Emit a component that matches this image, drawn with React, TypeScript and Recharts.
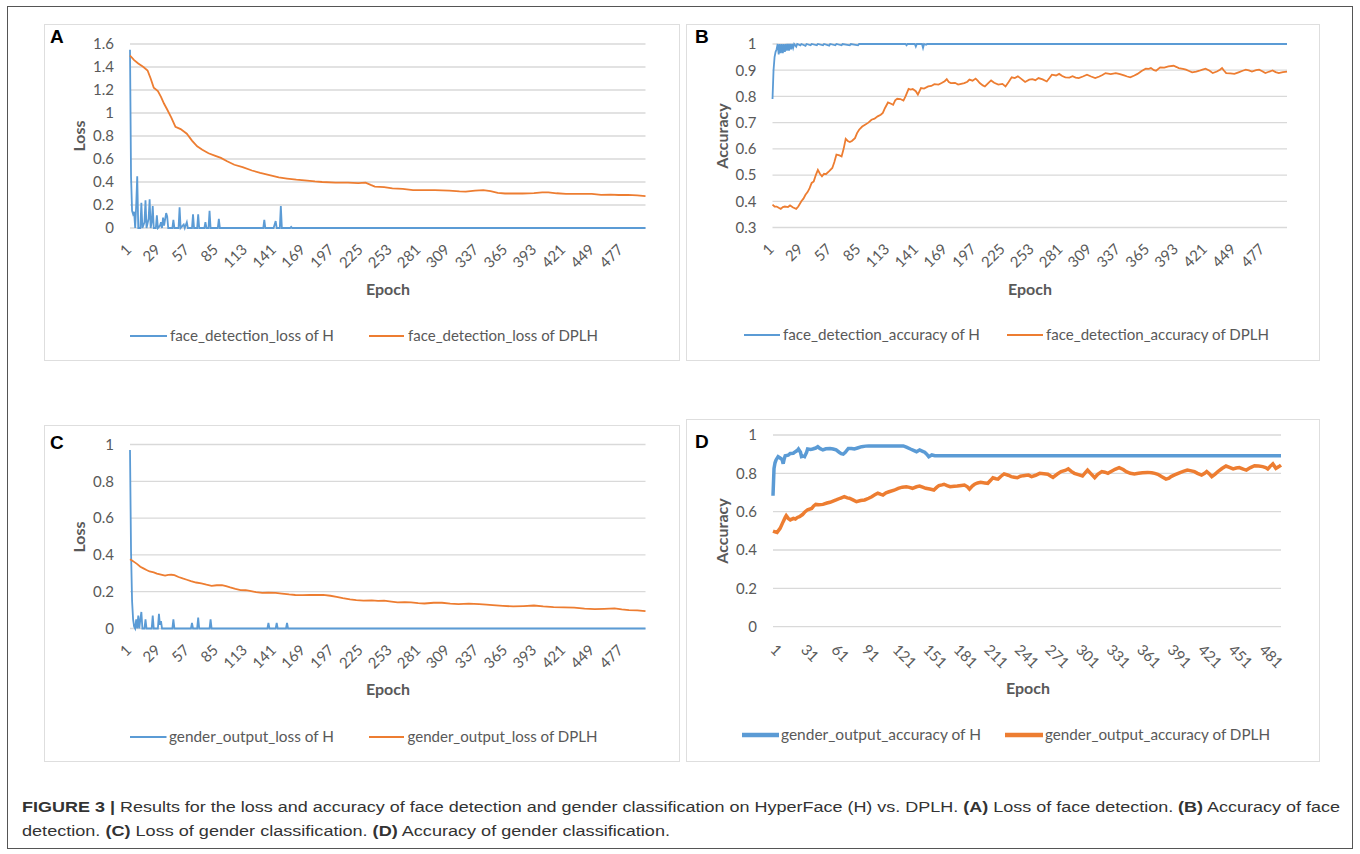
import { CartesianGrid, Line, LineChart, XAxis, YAxis } from "recharts";

type Pair = [number, number];

const BLUE = "#5b9bd5";
const ORANGE = "#ed7d31";
const TEXT = "#595959";
const FONT = "Lato, 'Open Sans', sans-serif";

// x tick labels
const ticks28 = [1, 29, 57, 85, 113, 141, 169, 197, 225, 253, 281, 309, 337, 365, 393, 421, 449, 477];
const ticks30 = [1, 31, 61, 91, 121, 151, 181, 211, 241, 271, 301, 331, 361, 391, 421, 451, 481];

// y tick labels
const yTicksA = [0, 0.2, 0.4, 0.6, 0.8, 1, 1.2, 1.4, 1.6];
const yTicksB = [0.3, 0.4, 0.5, 0.6, 0.7, 0.8, 0.9, 1];
const yTicksCD = [0, 0.2, 0.4, 0.6, 0.8, 1];

// A: face_detection_loss  [epoch, value]
const faceLossH: Pair[] = [
  [1, 1.55], [2, 0.45], [3, 0.15], [4, 0.12], [5, 0.14], [6, 0], [7, 0.2], [8, 0.45], [9, 0], [11, 0],
  [12, 0.22], [13, 0], [15, 0.05], [16, 0.24], [17, 0], [19, 0.08], [20, 0.25], [21, 0], [22, 0.05],
  [23, 0.19], [24, 0], [26, 0], [27, 0.11], [28, 0], [30, 0.02], [31, 0.05], [32, 0], [33, 0.09],
  [34, 0.02], [36, 0.13], [37, 0.1], [38, 0], [42, 0], [43, 0.07], [44, 0], [48, 0], [49, 0.18],
  [50, 0], [52, 0.02], [53, 0.03], [54, 0], [56, 0.05], [57, 0], [61, 0], [62, 0.12], [63, 0], [66, 0],
  [67, 0.12], [68, 0], [73, 0], [74, 0.05], [75, 0], [77, 0], [78, 0.15], [79, 0], [86, 0], [87, 0.08],
  [88, 0], [130, 0], [131, 0.07], [132, 0], [140, 0], [142, 0.06], [143, 0], [146, 0], [147, 0.19],
  [148, 0], [156, 0], [157, 0.01], [158, 0], [500, 0],
];
const faceLossDPLH: Pair[] = [
  [1, 1.5], [5, 1.46], [9, 1.43], [14, 1.4], [18, 1.37], [21, 1.3], [24, 1.22], [28, 1.19], [31, 1.14],
  [34, 1.08], [37, 1.03], [41, 0.96], [45, 0.88], [50, 0.86], [56, 0.82], [61, 0.76], [66, 0.71],
  [71, 0.68], [77, 0.65], [83, 0.63], [89, 0.61], [95, 0.58], [102, 0.55], [110, 0.53], [119, 0.5],
  [127, 0.48], [136, 0.46], [145, 0.44], [153, 0.43], [162, 0.42], [170, 0.415], [180, 0.405],
  [187, 0.4], [200, 0.395], [212, 0.395], [222, 0.39], [229, 0.395], [234, 0.375], [238, 0.36],
  [247, 0.355], [255, 0.345], [265, 0.34], [275, 0.33], [285, 0.33], [296, 0.33], [310, 0.325],
  [320, 0.318], [326, 0.316], [335, 0.325], [343, 0.33], [350, 0.32], [357, 0.305], [364, 0.3],
  [372, 0.3], [381, 0.3], [392, 0.303], [400, 0.31], [406, 0.31], [414, 0.302], [423, 0.296],
  [435, 0.296], [448, 0.296], [457, 0.288], [466, 0.29], [474, 0.287], [483, 0.288], [492, 0.283],
  [500, 0.278],
];

// B: face_detection_accuracy
const faceAccH: Pair[] = [
  [1, 0.79], [2, 0.9], [3, 0.95], [4, 0.97], [5, 0.98], [6, 1], [7, 0.96], [8, 1], [9, 0.965], [10, 1],
  [11, 0.965], [12, 1], [13, 0.97], [14, 1], [15, 0.975], [16, 1], [17, 0.975], [18, 1], [19, 0.98],
  [20, 1], [21, 0.985], [22, 1], [24, 0.99], [25, 1], [28, 0.995], [29, 1], [33, 0.993], [34, 1],
  [38, 0.995], [39, 1], [44, 0.995], [45, 1], [50, 0.995], [51, 1], [56, 0.994], [57, 1], [62, 0.995],
  [63, 1], [68, 0.995], [69, 1], [76, 0.995], [77, 1], [84, 0.995], [85, 1], [130, 1], [131, 0.995],
  [132, 1], [139, 1], [140, 0.99], [141, 1], [146, 1], [147, 0.985], [148, 1], [150, 0.997], [151, 1],
  [500, 1],
];
const faceAccDPLH: Pair[] = [
  [1, 0.387], [3, 0.38], [5, 0.38], [7, 0.375], [9, 0.371], [11, 0.378], [13, 0.38], [16, 0.378],
  [18, 0.384], [21, 0.376], [24, 0.371], [26, 0.38], [29, 0.4], [31, 0.41], [33, 0.425], [35, 0.435],
  [37, 0.45], [39, 0.47], [41, 0.476], [43, 0.5], [45, 0.52], [47, 0.505], [49, 0.495], [51, 0.505],
  [53, 0.504], [56, 0.515], [59, 0.527], [61, 0.55], [63, 0.578], [66, 0.575], [68, 0.571], [70, 0.6],
  [72, 0.638], [74, 0.63], [76, 0.626], [78, 0.63], [81, 0.641], [83, 0.66], [85, 0.673], [88, 0.685],
  [90, 0.69], [94, 0.7], [97, 0.711], [100, 0.715], [103, 0.724], [106, 0.73], [108, 0.737],
  [110, 0.755], [113, 0.777], [116, 0.772], [118, 0.768], [120, 0.785], [122, 0.791], [125, 0.79],
  [128, 0.784], [130, 0.8], [133, 0.829], [135, 0.826], [137, 0.828], [140, 0.82], [142, 0.807],
  [145, 0.832], [148, 0.83], [152, 0.838], [155, 0.84], [158, 0.847], [162, 0.845], [165, 0.851],
  [168, 0.858], [170, 0.866], [172, 0.855], [174, 0.851], [178, 0.852], [181, 0.845], [184, 0.848],
  [187, 0.851], [190, 0.856], [192, 0.864], [195, 0.86], [198, 0.868], [200, 0.86], [202, 0.851],
  [205, 0.842], [207, 0.838], [210, 0.85], [213, 0.861], [216, 0.852], [220, 0.845], [224, 0.848],
  [227, 0.838], [230, 0.855], [233, 0.873], [236, 0.87], [239, 0.877], [242, 0.868], [246, 0.855],
  [250, 0.864], [253, 0.866], [256, 0.862], [259, 0.87], [263, 0.865], [267, 0.857], [270, 0.872],
  [272, 0.883], [276, 0.88], [279, 0.886], [282, 0.878], [285, 0.873], [289, 0.872], [292, 0.877],
  [295, 0.872], [298, 0.87], [302, 0.876], [306, 0.883], [310, 0.876], [314, 0.87], [318, 0.876],
  [321, 0.882], [324, 0.889], [329, 0.885], [334, 0.889], [338, 0.885], [342, 0.88], [345, 0.876],
  [348, 0.873], [352, 0.88], [355, 0.886], [359, 0.897], [363, 0.906], [366, 0.905], [368, 0.908],
  [371, 0.9], [373, 0.898], [377, 0.911], [381, 0.91], [385, 0.915], [390, 0.917], [393, 0.912],
  [395, 0.908], [399, 0.905], [402, 0.902], [405, 0.897], [408, 0.892], [412, 0.895], [415, 0.898],
  [418, 0.902], [421, 0.906], [425, 0.898], [428, 0.889], [432, 0.895], [435, 0.902], [437, 0.908],
  [439, 0.898], [441, 0.889], [445, 0.888], [449, 0.886], [453, 0.892], [457, 0.898], [460, 0.902],
  [463, 0.899], [466, 0.895], [470, 0.9], [473, 0.902], [476, 0.896], [479, 0.889], [483, 0.895],
  [486, 0.899], [489, 0.893], [492, 0.889], [496, 0.893], [500, 0.895],
];

// C: gender_output_loss
const genderLossH: Pair[] = [
  [1, 0.97], [2, 0.42], [3, 0.15], [4, 0.05], [5, 0.01], [6, 0], [7, 0.05], [8, 0], [9, 0.07], [10, 0],
  [11, 0.05], [12, 0.09], [13, 0], [15, 0], [16, 0.05], [17, 0], [22, 0], [23, 0.07], [24, 0], [28, 0],
  [29, 0.08], [30, 0.02], [31, 0.04], [32, 0], [42, 0], [43, 0.05], [44, 0], [60, 0], [61, 0.03],
  [62, 0], [66, 0], [67, 0.06], [68, 0], [78, 0], [79, 0.05], [80, 0], [134, 0], [135, 0.03], [136, 0],
  [142, 0], [143, 0.03], [144, 0], [152, 0], [153, 0.03], [154, 0], [500, 0],
];
const genderLossDPLH: Pair[] = [
  [1, 0.376], [3, 0.37], [6, 0.358], [8, 0.35], [11, 0.336], [14, 0.327], [17, 0.318], [20, 0.31],
  [24, 0.305], [27, 0.298], [30, 0.294], [33, 0.29], [35, 0.287], [38, 0.291], [41, 0.292], [44, 0.29],
  [48, 0.28], [52, 0.272], [56, 0.265], [60, 0.258], [65, 0.25], [70, 0.245], [75, 0.238], [80, 0.232],
  [85, 0.235], [90, 0.236], [94, 0.23], [98, 0.223], [103, 0.215], [108, 0.209], [113, 0.208],
  [117, 0.205], [123, 0.198], [129, 0.194], [135, 0.195], [142, 0.194], [148, 0.19], [155, 0.185],
  [161, 0.182], [168, 0.181], [175, 0.182], [182, 0.182], [188, 0.183], [195, 0.178], [201, 0.172],
  [207, 0.165], [214, 0.158], [220, 0.154], [227, 0.152], [235, 0.153], [241, 0.15], [247, 0.151],
  [254, 0.146], [260, 0.142], [267, 0.143], [273, 0.142], [280, 0.138], [286, 0.136], [295, 0.14],
  [303, 0.14], [311, 0.135], [319, 0.132], [329, 0.135], [339, 0.132], [346, 0.13], [352, 0.127],
  [362, 0.123], [372, 0.12], [382, 0.122], [392, 0.125], [401, 0.12], [411, 0.116], [421, 0.115],
  [431, 0.113], [441, 0.108], [451, 0.105], [460, 0.107], [470, 0.109], [477, 0.104], [484, 0.1],
  [492, 0.098], [500, 0.094],
];

// D: gender_output_accuracy
const genderAccH: Pair[] = [
  [1, 0.683], [2, 0.826], [3, 0.855], [4, 0.87], [6, 0.887], [8, 0.88], [10, 0.872], [11, 0.85],
  [12, 0.875], [13, 0.892], [16, 0.895], [18, 0.904], [21, 0.905], [23, 0.913], [25, 0.92], [26, 0.927],
  [28, 0.91], [29, 0.887], [31, 0.89], [32, 0.887], [34, 0.91], [35, 0.927], [38, 0.925], [40, 0.927],
  [43, 0.932], [45, 0.939], [47, 0.93], [50, 0.922], [53, 0.928], [57, 0.93], [60, 0.927], [63, 0.922],
  [66, 0.91], [68, 0.903], [70, 0.9], [72, 0.91], [75, 0.93], [78, 0.93], [81, 0.927], [84, 0.932],
  [88, 0.939], [92, 0.942], [95, 0.943], [108, 0.943], [121, 0.943], [129, 0.943], [132, 0.937],
  [136, 0.927], [139, 0.92], [142, 0.913], [145, 0.922], [148, 0.915], [150, 0.91], [152, 0.9],
  [154, 0.887], [157, 0.896], [160, 0.892], [500, 0.892],
];
const genderAccDPLH: Pair[] = [
  [1, 0.499], [3, 0.495], [5, 0.492], [8, 0.513], [11, 0.548], [13, 0.57], [14, 0.579], [16, 0.565],
  [18, 0.557], [21, 0.565], [23, 0.562], [25, 0.57], [27, 0.574], [30, 0.585], [32, 0.597], [35, 0.61],
  [39, 0.617], [41, 0.63], [43, 0.638], [46, 0.636], [50, 0.638], [54, 0.645], [57, 0.649], [60, 0.655],
  [63, 0.661], [67, 0.67], [71, 0.678], [74, 0.672], [76, 0.67], [80, 0.66], [83, 0.652], [87, 0.658],
  [91, 0.661], [95, 0.67], [98, 0.678], [101, 0.688], [104, 0.696], [107, 0.69], [109, 0.687],
  [112, 0.698], [115, 0.704], [120, 0.712], [124, 0.722], [128, 0.728], [132, 0.73], [135, 0.727],
  [138, 0.722], [142, 0.73], [145, 0.734], [148, 0.728], [151, 0.722], [155, 0.718], [159, 0.713],
  [162, 0.728], [164, 0.736], [167, 0.74], [169, 0.743], [172, 0.736], [175, 0.73], [179, 0.733],
  [182, 0.734], [186, 0.737], [189, 0.739], [192, 0.73], [194, 0.718], [197, 0.735], [199, 0.743],
  [202, 0.75], [205, 0.753], [209, 0.75], [212, 0.748], [215, 0.765], [217, 0.777], [220, 0.772],
  [222, 0.77], [225, 0.785], [228, 0.797], [232, 0.79], [235, 0.783], [238, 0.78], [241, 0.777],
  [244, 0.785], [247, 0.788], [250, 0.79], [252, 0.791], [255, 0.783], [259, 0.79], [263, 0.8],
  [267, 0.798], [271, 0.795], [274, 0.785], [276, 0.779], [280, 0.795], [284, 0.809], [288, 0.815],
  [291, 0.823], [294, 0.81], [297, 0.8], [301, 0.793], [305, 0.786], [308, 0.805], [310, 0.817],
  [313, 0.8], [317, 0.777], [320, 0.795], [324, 0.809], [327, 0.806], [330, 0.8], [334, 0.812],
  [337, 0.821], [341, 0.83], [345, 0.82], [348, 0.809], [352, 0.8], [356, 0.797], [360, 0.8],
  [364, 0.803], [369, 0.805], [373, 0.803], [376, 0.8], [379, 0.795], [383, 0.782], [387, 0.77],
  [390, 0.775], [392, 0.783], [396, 0.793], [399, 0.8], [404, 0.81], [408, 0.817], [412, 0.813],
  [415, 0.809], [418, 0.8], [422, 0.791], [425, 0.8], [427, 0.809], [430, 0.795], [432, 0.783],
  [435, 0.795], [438, 0.809], [442, 0.825], [446, 0.838], [450, 0.83], [453, 0.823], [456, 0.828],
  [459, 0.83], [463, 0.822], [466, 0.817], [470, 0.83], [474, 0.84], [478, 0.838], [482, 0.835],
  [485, 0.83], [487, 0.823], [490, 0.84], [492, 0.849], [495, 0.826], [498, 0.835], [500, 0.843],
];

const toPoints = (pairs: Pair[]) => pairs.map(([epoch, v]) => ({ epoch, v }));

type Rect = { left: number; top: number; width: number; height: number };
type LegendItem = { label: string; x1: number; x2: number; tx: number; tw: number; color: string };

type PanelProps = {
  box: Rect;
  plot: { left: number; top: number; right: number; bottom: number };
  letter: { text: string; x: number; y: number };
  yTitle: { text: string; x: number; y: number };
  epoch: { x: number; y: number };
  legendY: number;
  legend: LegendItem[];
  xTicks: number[];
  slant: number;
  yTicks: number[];
  yDomain: [number, number];
  series: { data: Pair[]; color: string }[];
  lineWidth: number;
  legendWidth: number;
};

const Y_AXIS_W = 40;
const X_AXIS_H = 60;

function Panel(p: PanelProps) {
  const { box, plot } = p;
  const margin = {
    top: plot.top - box.top,
    right: box.left + box.width - plot.right,
    left: plot.left - box.left - Y_AXIS_W,
    bottom: box.top + box.height - plot.bottom - X_AXIS_H,
  };
  const bx = (x: number) => x - box.left;
  const by = (y: number) => y - box.top;

  const renderTick = (props: any) => {
    const { x, y, payload } = props;
    if (p.slant < 0) {
      const ax = x + 2.5;
      const ay = y + 22.5;
      return (
        <text x={ax} y={ay} textAnchor="end" transform={`rotate(-45 ${ax} ${ay})`}
          fill={TEXT} fontSize={15} fontFamily={FONT}>{payload.value}</text>
      );
    }
    const ax = x - 3.5;
    const ay = y + 24;
    return (
      <text x={ax} y={ay} textAnchor="start" transform={`rotate(45 ${ax} ${ay})`}
        fill={TEXT} fontSize={15} fontFamily={FONT}>{payload.value}</text>
    );
  };

  return (
    <div style={{ position: "absolute", left: box.left, top: box.top, width: box.width, height: box.height }}>
      <div style={{ position: "absolute", inset: 0, border: "1px solid #dedede", boxSizing: "border-box" }} />
      <div style={{ position: "absolute", left: 0, top: 0 }}>
        <LineChart width={box.width} height={box.height} margin={margin}>
          <CartesianGrid vertical={false} stroke="#d9d9d9" strokeWidth={1.3} />
          <XAxis
            dataKey="epoch"
            type="number"
            domain={[1, 500]}
            ticks={p.xTicks}
            interval={0}
            tickLine={false}
            axisLine={false}
            tickSize={0}
            tickMargin={0}
            height={X_AXIS_H}
            tick={renderTick}
            allowDuplicatedCategory={false}
          />
          <YAxis
            type="number"
            domain={p.yDomain}
            ticks={p.yTicks}
            interval={0}
            tickLine={false}
            axisLine={false}
            tickSize={0}
            tickMargin={16}
            width={Y_AXIS_W}
            tick={{ fill: TEXT, fontSize: 15, fontFamily: FONT }}
          />
          {p.series.map((s, i) => (
            <Line
              key={i}
              data={toPoints(s.data)}
              dataKey="v"
              type="linear"
              stroke={s.color}
              strokeWidth={p.lineWidth}
              dot={false}
              activeDot={false}
              isAnimationActive={false}
            />
          ))}
        </LineChart>
      </div>
      <svg width={box.width} height={box.height}
        style={{ position: "absolute", left: 0, top: 0, pointerEvents: "none" }}>
        <text x={bx(p.letter.x)} y={by(p.letter.y)} fontFamily="'Liberation Sans', Arial, sans-serif"
          fontWeight="bold" fontSize={19} fill="#000">{p.letter.text}</text>
        <text x={bx(p.yTitle.x)} y={by(p.yTitle.y)} textAnchor="middle" dominantBaseline="central"
          transform={`rotate(-90 ${bx(p.yTitle.x)} ${by(p.yTitle.y)})`}
          fontFamily={FONT} fontWeight="bold" fontSize={16} fill={TEXT}>{p.yTitle.text}</text>
        <text x={bx(p.epoch.x)} y={by(p.epoch.y)} textAnchor="middle" dominantBaseline="central"
          fontFamily={FONT} fontWeight="bold" fontSize={16} fill={TEXT}>Epoch</text>
        {p.legend.map((l) => (
          <g key={l.label}>
            <line x1={bx(l.x1)} x2={bx(l.x2)} y1={by(p.legendY)} y2={by(p.legendY)}
              stroke={l.color} strokeWidth={p.legendWidth} />
            <text x={bx(l.tx)} y={by(p.legendY) + 5} textLength={l.tw} lengthAdjust="spacingAndGlyphs"
              fontFamily={FONT} fontSize={15} fill={TEXT}>{l.label}</text>
          </g>
        ))}
      </svg>
    </div>
  );
}

export default function App() {
  return (
    <div style={{ position: "absolute", left: 0, top: 0, width: 1360, height: 854, background: "#fff" }}>
      <div style={{ position: "absolute", left: 7, top: 6, width: 1346, height: 843, border: "1.5px solid #555", boxSizing: "border-box" }} />
      <Panel
        box={{ left: 44, top: 24, width: 636, height: 337 }}
        plot={{ left: 130, top: 44, right: 645.5, bottom: 228 }}
        letter={{ text: "A", x: 50, y: 43 }}
        yTitle={{ text: "Loss", x: 78, y: 136 }}
        epoch={{ x: 388, y: 288 }}
        legendY={336}
        legend={[
          { label: "face_detection_loss of H", x1: 130, x2: 167, tx: 170, tw: 164, color: BLUE },
          { label: "face_detection_loss of DPLH", x1: 369, x2: 404, tx: 408, tw: 190, color: ORANGE },
        ]}
        xTicks={ticks28}
        slant={-1}
        yTicks={yTicksA}
        yDomain={[0, 1.6]}
        series={[{ data: faceLossH, color: BLUE }, { data: faceLossDPLH, color: ORANGE }]}
        lineWidth={1.8}
        legendWidth={2.2}
      />
      <Panel
        box={{ left: 686, top: 24, width: 634, height: 337 }}
        plot={{ left: 772.5, top: 44, right: 1287, bottom: 227.5 }}
        letter={{ text: "B", x: 695, y: 43 }}
        yTitle={{ text: "Accuracy", x: 721.5, y: 136 }}
        epoch={{ x: 1030, y: 288 }}
        legendY={335}
        legend={[
          { label: "face_detection_accuracy of H", x1: 744, x2: 780, tx: 783, tw: 197, color: BLUE },
          { label: "face_detection_accuracy of DPLH", x1: 1007, x2: 1043, tx: 1046, tw: 223, color: ORANGE },
        ]}
        xTicks={ticks28}
        slant={-1}
        yTicks={yTicksB}
        yDomain={[0.3, 1]}
        series={[{ data: faceAccH, color: BLUE }, { data: faceAccDPLH, color: ORANGE }]}
        lineWidth={1.8}
        legendWidth={2.2}
      />
      <Panel
        box={{ left: 44, top: 425, width: 636, height: 337 }}
        plot={{ left: 130, top: 444.5, right: 645.5, bottom: 628.5 }}
        letter={{ text: "C", x: 50, y: 449 }}
        yTitle={{ text: "Loss", x: 78, y: 537 }}
        epoch={{ x: 388, y: 688 }}
        legendY={737}
        legend={[
          { label: "gender_output_loss of H", x1: 130, x2: 166.5, tx: 169, tw: 165, color: BLUE },
          { label: "gender_output_loss of DPLH", x1: 369, x2: 404, tx: 407.5, tw: 190, color: ORANGE },
        ]}
        xTicks={ticks28}
        slant={-1}
        yTicks={yTicksCD}
        yDomain={[0, 1]}
        series={[{ data: genderLossH, color: BLUE }, { data: genderLossDPLH, color: ORANGE }]}
        lineWidth={1.8}
        legendWidth={2.2}
      />
      <Panel
        box={{ left: 686, top: 419, width: 634, height: 343 }}
        plot={{ left: 773, top: 435, right: 1281, bottom: 626.7 }}
        letter={{ text: "D", x: 695, y: 448 }}
        yTitle={{ text: "Accuracy", x: 721.5, y: 531 }}
        epoch={{ x: 1028, y: 687.5 }}
        legendY={735}
        legend={[
          { label: "gender_output_accuracy of H", x1: 742, x2: 779, tx: 781, tw: 200, color: BLUE },
          { label: "gender_output_accuracy of DPLH", x1: 1005, x2: 1043, tx: 1045, tw: 225, color: ORANGE },
        ]}
        xTicks={ticks30}
        slant={1}
        yTicks={yTicksCD}
        yDomain={[0, 1]}
        series={[{ data: genderAccH, color: BLUE }, { data: genderAccDPLH, color: ORANGE }]}
        lineWidth={3.5}
        legendWidth={4.5}
      />
      <svg width={1360} height={70} style={{ position: "absolute", left: 0, top: 780 }}>
        <g fontFamily="'Liberation Sans Narrow', 'Liberation Sans', Arial, sans-serif" fontSize={15.5} fill="#333">
          <text x={22} y={32} textLength={1318} lengthAdjust="spacingAndGlyphs">
            <tspan fontWeight="bold">FIGURE 3 |</tspan>
            {" Results for the loss and accuracy of face detection and gender classification on HyperFace (H) vs. DPLH. "}
            <tspan fontWeight="bold">(A)</tspan>
            {" Loss of face detection. "}
            <tspan fontWeight="bold">(B)</tspan>
            {" Accuracy of face"}
          </text>
          <text x={22} y={56} textLength={648} lengthAdjust="spacingAndGlyphs">
            {"detection. "}
            <tspan fontWeight="bold">(C)</tspan>
            {" Loss of gender classification. "}
            <tspan fontWeight="bold">(D)</tspan>
            {" Accuracy of gender classification."}
          </text>
        </g>
      </svg>
    </div>
  );
}
